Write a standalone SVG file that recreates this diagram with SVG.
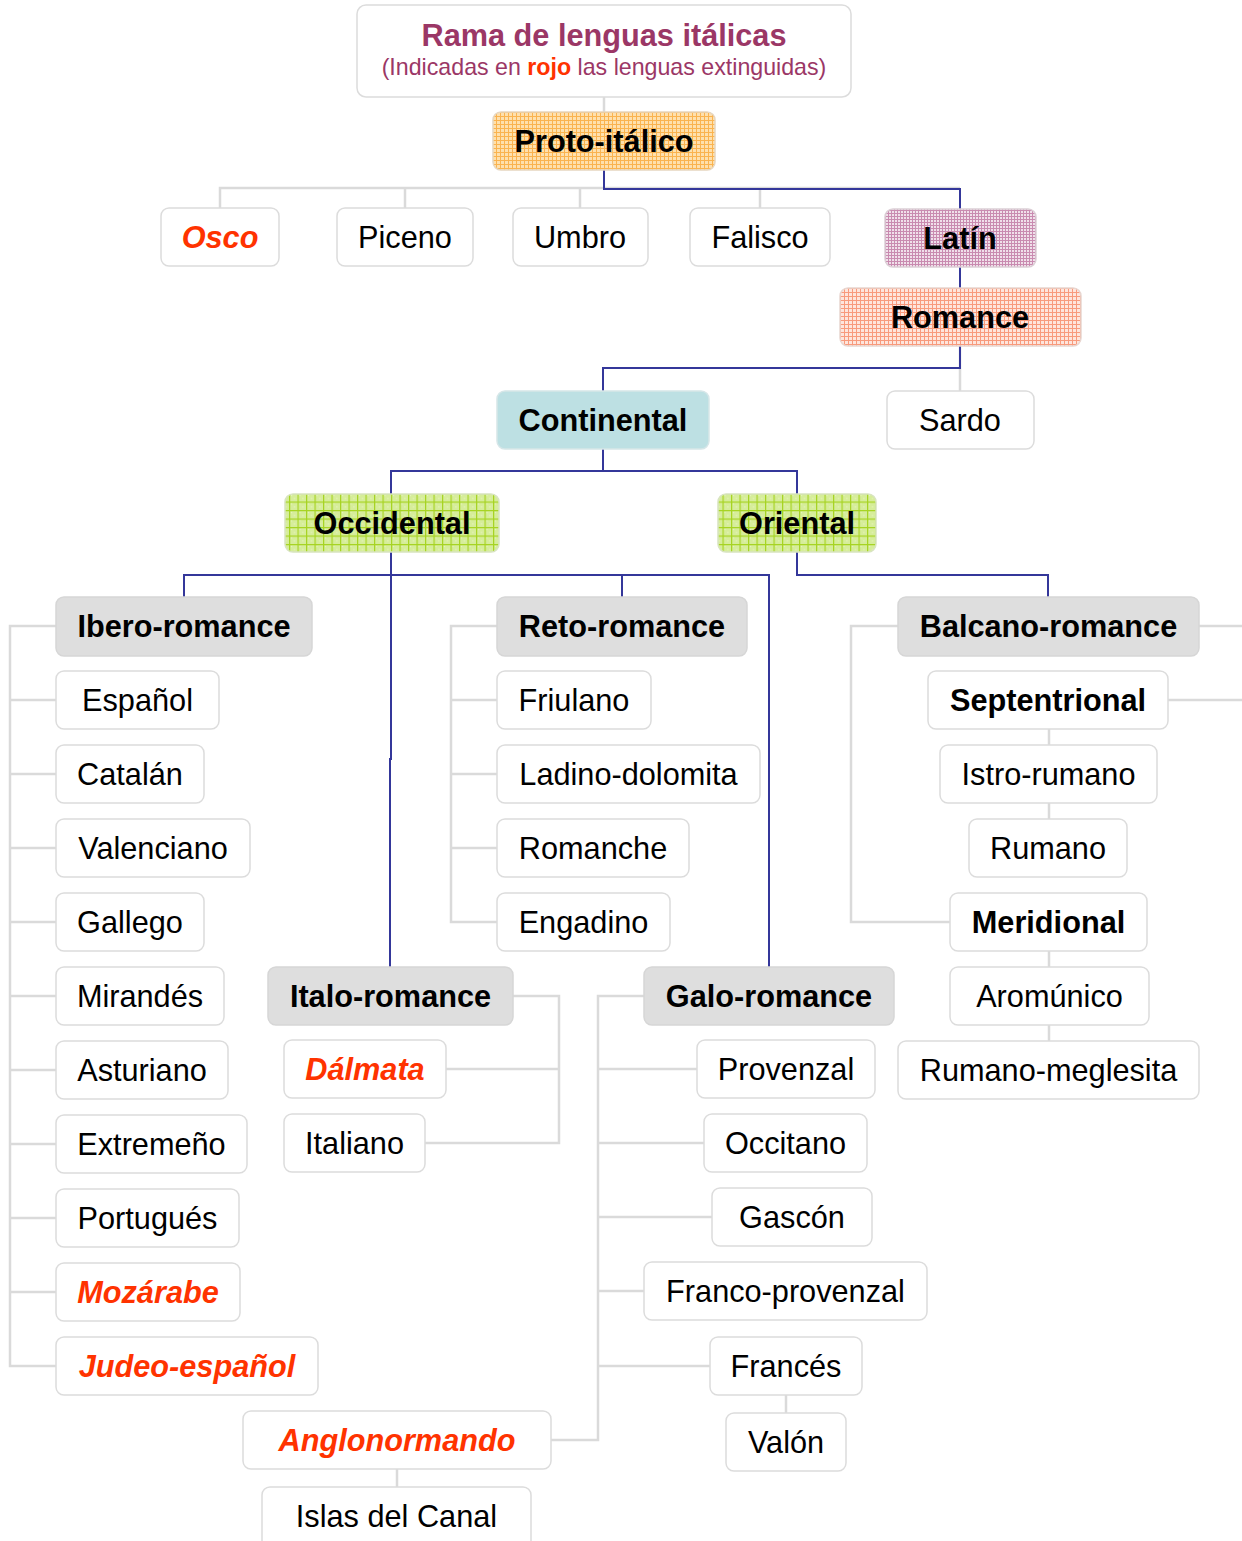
<svg xmlns="http://www.w3.org/2000/svg" width="1242" height="1541" viewBox="0 0 1242 1541">
<style>
.n{fill:#fff;stroke:#dcdcdc;stroke-width:1.5}
.h{fill:#dedede;stroke:#d6d6d6;stroke-width:1.5}
.t{font-family:"Liberation Sans",Arial,sans-serif;font-size:30.7px;fill:#000;text-anchor:middle}
.bd{font-weight:bold}
.ex{font-weight:bold;font-style:italic;fill:#ff3300}
.g{fill:none;stroke:#dadada;stroke-width:2.5}
.b{fill:none;stroke:#34379a;stroke-width:2}
</style>
<defs>
<pattern id="pOr" width="4" height="4" patternUnits="userSpaceOnUse">
<rect width="4" height="4" fill="#fee0ad"/>
<rect width="4" height="1" fill="#fab34f"/>
<rect width="1" height="4" fill="#fab34f"/>
</pattern>
<pattern id="pPu" width="3" height="3" patternUnits="userSpaceOnUse">
<rect width="3" height="3" fill="#ecd6e3"/>
<rect width="3" height="1" fill="#c98bb0"/>
<rect width="1" height="3" fill="#c98bb0"/>
<rect x="1.5" y="1.5" width="1" height="1" fill="#ffffff"/>
</pattern>
<pattern id="pSa" width="4" height="4" patternUnits="userSpaceOnUse">
<rect width="4" height="4" fill="#fee5dc"/>
<rect width="4" height="1" fill="#f89a7c"/>
<rect width="1" height="4" fill="#f89a7c"/>
</pattern>
<pattern id="pGr" width="8.5" height="8.5" patternUnits="userSpaceOnUse">
<rect width="8.5" height="8.5" fill="#d6ed9a"/>
<rect x="2" y="2" width="1" height="1" fill="#eef8d0"/>
<rect x="5" y="5" width="1" height="1" fill="#eef8d0"/>
<rect width="8.5" height="1.2" fill="#a6d321"/>
<rect width="1.2" height="8.5" fill="#a6d321"/>
</pattern>
</defs>
<g id="connectors">
<path class="g" d="M604 97V112"/>
<path class="g" d="M220 208V188H960M405 188V208M580 188V208M760 188V208"/>
<path class="g" d="M960 346V391"/>
<path class="g" d="M56 626H10V1366H56M10 700H56M10 774H56M10 848H56M10 922H56M10 996H56M10 1070H56M10 1144H56M10 1218H56M10 1292H56"/>
<path class="g" d="M497 626H451V922H497M451 700H497M451 774H497M451 848H497"/>
<path class="g" d="M513 996H559V1143H425M446 1069H559"/>
<path class="g" d="M644 996H598V1440H551M598 1069H697M598 1143H704M598 1217H712M598 1291H644M598 1366H710"/>
<path class="g" d="M786 1395V1413M397 1469V1487"/>
<path class="g" d="M898 626H851V922H950M1199 626H1242M1168 700H1242"/>
<path class="g" d="M1049 729V745M1049 803V819M1049 951V967M1049 1025V1041"/>
<path class="b" d="M604 170V189H960V209"/>
<path class="b" d="M960 267V288"/>
<path class="b" d="M960 346V368H603V391"/>
<path class="b" d="M603 449V471H391V494M603 471H797V494"/>
<path class="b" d="M391 552V575H184V597M391 575H769V967M622 575V597M391 575V759H390V967"/>
<path class="b" d="M797 552V575H1048V597"/>
</g>
<g id="title"><rect class="n" x="357" y="5" width="494" height="92" rx="9"/>
<text class="t bd" x="604" y="46" style="fill:#9b3766">Rama de lenguas itálicas</text>
<text class="t" x="604" y="75" style="font-size:23.2px;fill:#9b3766">(Indicadas en <tspan style="font-weight:bold;fill:#ff3300">rojo</tspan> las lenguas extinguidas)</text></g>
<g id="proto"><rect x="493" y="112" width="222" height="58" rx="8" fill="url(#pOr)" stroke="#e6d6c0" stroke-width="1.5"/><text class="t bd" x="604" y="152">Proto-itálico</text></g>
<g id="osco"><rect class="n" x="161" y="208" width="118" height="58" rx="8"/><text class="t ex" x="220" y="248">Osco</text></g>
<g id="piceno"><rect class="n" x="337" y="208" width="136" height="58" rx="8"/><text class="t" x="405" y="248">Piceno</text></g>
<g id="umbro"><rect class="n" x="513" y="208" width="135" height="58" rx="8"/><text class="t" x="580" y="248">Umbro</text></g>
<g id="falisco"><rect class="n" x="690" y="208" width="140" height="58" rx="8"/><text class="t" x="760" y="248">Falisco</text></g>
<g id="latin"><rect x="885" y="209" width="151" height="58" rx="8" fill="url(#pPu)" stroke="#dccfd6" stroke-width="1.5"/><text class="t bd" x="960" y="249">Latín</text></g>
<g id="romance"><rect x="840" y="288" width="241" height="58" rx="8" fill="url(#pSa)" stroke="#e8d6d0" stroke-width="1.5"/><text class="t bd" x="960" y="328">Romance</text></g>
<g id="continental"><rect x="497" y="391" width="212" height="58" rx="8" fill="#bde0e3" stroke="#d6e6e8" stroke-width="1.5"/><text class="t bd" x="603" y="431">Continental</text></g>
<g id="sardo"><rect class="n" x="887" y="391" width="147" height="58" rx="8"/><text class="t" x="960" y="431">Sardo</text></g>
<g id="occidental"><rect x="285" y="494" width="214" height="58" rx="8" fill="url(#pGr)" stroke="#d8e4c0" stroke-width="1.5"/><text class="t bd" x="392" y="534">Occidental</text></g>
<g id="oriental"><rect x="718" y="494" width="158" height="58" rx="8" fill="url(#pGr)" stroke="#d8e4c0" stroke-width="1.5"/><text class="t bd" x="797" y="534">Oriental</text></g>
<g id="ibero"><rect class="h" x="56" y="597" width="256" height="59" rx="8"/><text class="t bd" x="184" y="637">Ibero-romance</text></g>
<g id="espanol"><rect class="n" x="56" y="671" width="163" height="58" rx="8"/><text class="t" x="137.5" y="711">Español</text></g>
<g id="catalan"><rect class="n" x="56" y="745" width="148" height="58" rx="8"/><text class="t" x="130" y="785">Catalán</text></g>
<g id="valenciano"><rect class="n" x="56" y="819" width="194" height="58" rx="8"/><text class="t" x="153" y="859">Valenciano</text></g>
<g id="gallego"><rect class="n" x="56" y="893" width="148" height="58" rx="8"/><text class="t" x="130" y="933">Gallego</text></g>
<g id="mirandes"><rect class="n" x="56" y="967" width="168" height="58" rx="8"/><text class="t" x="140" y="1007">Mirandés</text></g>
<g id="asturiano"><rect class="n" x="56" y="1041" width="172" height="58" rx="8"/><text class="t" x="142" y="1081">Asturiano</text></g>
<g id="extremeno"><rect class="n" x="56" y="1115" width="191" height="58" rx="8"/><text class="t" x="151.5" y="1155">Extremeño</text></g>
<g id="portugues"><rect class="n" x="56" y="1189" width="183" height="58" rx="8"/><text class="t" x="147.5" y="1229">Portugués</text></g>
<g id="mozarabe"><rect class="n" x="56" y="1263" width="184" height="58" rx="8"/><text class="t ex" x="148" y="1303">Mozárabe</text></g>
<g id="judeo"><rect class="n" x="56" y="1337" width="262" height="58" rx="8"/><text class="t ex" x="187" y="1377">Judeo-español</text></g>
<g id="reto"><rect class="h" x="497" y="597" width="250" height="59" rx="8"/><text class="t bd" x="622" y="637">Reto-romance</text></g>
<g id="friulano"><rect class="n" x="497" y="671" width="154" height="58" rx="8"/><text class="t" x="574" y="711">Friulano</text></g>
<g id="ladino"><rect class="n" x="497" y="745" width="263" height="58" rx="8"/><text class="t" x="628.5" y="785">Ladino-dolomita</text></g>
<g id="romanche"><rect class="n" x="497" y="819" width="192" height="58" rx="8"/><text class="t" x="593" y="859">Romanche</text></g>
<g id="engadino"><rect class="n" x="497" y="893" width="173" height="58" rx="8"/><text class="t" x="583.5" y="933">Engadino</text></g>
<g id="italo"><rect class="h" x="268" y="967" width="245" height="58" rx="8"/><text class="t bd" x="390.5" y="1007">Italo-romance</text></g>
<g id="dalmata"><rect class="n" x="284" y="1040" width="162" height="58" rx="8"/><text class="t ex" x="365" y="1080">Dálmata</text></g>
<g id="italiano"><rect class="n" x="284" y="1114" width="141" height="58" rx="8"/><text class="t" x="354.5" y="1154">Italiano</text></g>
<g id="galo"><rect class="h" x="644" y="967" width="250" height="58" rx="8"/><text class="t bd" x="769" y="1007">Galo-romance</text></g>
<g id="provenzal"><rect class="n" x="697" y="1040" width="178" height="58" rx="8"/><text class="t" x="786" y="1080">Provenzal</text></g>
<g id="occitano"><rect class="n" x="704" y="1114" width="163" height="58" rx="8"/><text class="t" x="785.5" y="1154">Occitano</text></g>
<g id="gascon"><rect class="n" x="712" y="1188" width="160" height="58" rx="8"/><text class="t" x="792" y="1228">Gascón</text></g>
<g id="franco"><rect class="n" x="644" y="1262" width="283" height="58" rx="8"/><text class="t" x="785.5" y="1302">Franco-provenzal</text></g>
<g id="frances"><rect class="n" x="710" y="1337" width="152" height="58" rx="8"/><text class="t" x="786" y="1377">Francés</text></g>
<g id="valon"><rect class="n" x="726" y="1413" width="120" height="58" rx="8"/><text class="t" x="786" y="1453">Valón</text></g>
<g id="anglo"><rect class="n" x="243" y="1411" width="308" height="58" rx="8"/><text class="t ex" x="397" y="1451">Anglonormando</text></g>
<g id="islas"><rect class="n" x="262" y="1487" width="269" height="62" rx="8"/><text class="t" x="396.5" y="1527">Islas del Canal</text></g>
<g id="balcano"><rect class="h" x="898" y="597" width="301" height="59" rx="8"/><text class="t bd" x="1048.5" y="637">Balcano-romance</text></g>
<g id="septentrional"><rect class="n" x="928" y="671" width="240" height="58" rx="8"/><text class="t bd" x="1048" y="711">Septentrional</text></g>
<g id="istro"><rect class="n" x="940" y="745" width="217" height="58" rx="8"/><text class="t" x="1048.5" y="785">Istro-rumano</text></g>
<g id="rumano"><rect class="n" x="969" y="819" width="158" height="58" rx="8"/><text class="t" x="1048" y="859">Rumano</text></g>
<g id="meridional"><rect class="n" x="950" y="893" width="197" height="58" rx="8"/><text class="t bd" x="1048.5" y="933">Meridional</text></g>
<g id="aromunico"><rect class="n" x="950" y="967" width="199" height="58" rx="8"/><text class="t" x="1049.5" y="1007">Aromúnico</text></g>
<g id="meglesita"><rect class="n" x="898" y="1041" width="301" height="58" rx="8"/><text class="t" x="1048.5" y="1081">Rumano-meglesita</text></g>
</svg>
